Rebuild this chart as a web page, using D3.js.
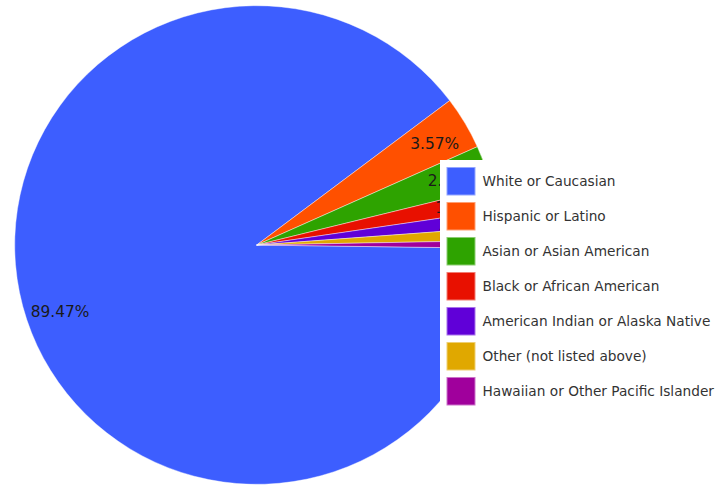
<!DOCTYPE html>
<html>
<head>
<meta charset="utf-8">
<script src="https://cdn.jsdelivr.net/npm/d3@7"></script>
<style>
  html, body { margin: 0; padding: 0; background: #ffffff; overflow: hidden; }
  svg { display: block; }
</style>
</head>
<body>
<svg id="chart" width="721" height="488"></svg>
<script>
// Respondent ethnicity shares (percent)
const categories = [
  "White or Caucasian",
  "Hispanic or Latino",
  "Asian or Asian American",
  "Black or African American",
  "American Indian or Alaska Native",
  "Other (not listed above)",
  "Hawaiian or Other Pacific Islander"
];
const values = [89.47, 3.57, 2.88, 1.52, 1.16, 0.88, 0.52];
const colors = ["#3d5eff", "#ff5000", "#2ea300", "#e81000", "#6000d8", "#e0a800", "#a0009c"];

const svg = d3.select("#chart");
const cx = 256.7, cy = 245, radius = 242, yScale = 0.989;

const data = categories.map((c, i) => ({ name: c, value: values[i], color: colors[i] }));

// Slices run clockwise, starting just below the 3 o'clock position
const start = Math.PI / 2 + 0.8 * Math.PI / 180;
const pie = d3.pie()
  .sort(null)
  .value(d => d.value)
  .startAngle(start)
  .endAngle(start + 2 * Math.PI);

const arc = d3.arc().innerRadius(0).outerRadius(radius);
const labelArc = d3.arc().innerRadius(radius * 0.855).outerRadius(radius * 0.855);

const arcs = pie(data);

svg.append("g")
  .attr("transform", `translate(${cx},${cy}) scale(1,${yScale})`)
  .selectAll("path.slice")
  .data(arcs)
  .join("path")
  .attr("class", "slice")
  .attr("d", arc)
  .attr("fill", d => d.data.color)
  .attr("stroke", "#ffffff")
  .attr("stroke-width", 0.6)
  .attr("stroke-opacity", 0.7);

svg.append("g")
  .attr("transform", `translate(${cx},${cy})`)
  .selectAll("text.pct")
  .data(arcs)
  .join("text")
  .attr("class", "pct")
  .attr("transform", d => {
    const [x, y] = labelArc.centroid(d);
    return `translate(${x},${y * yScale + 3})`;
  })
  .attr("text-anchor", "middle")
  .attr("dominant-baseline", "central")
  .attr("font-family", "DejaVu Sans, sans-serif")
  .attr("font-size", 15.4)
  .attr("fill", "#1a1a1a")
  .text(d => d.data.value.toFixed(2) + "%");

// Legend panel
const legend = svg.append("g").attr("transform", "translate(440,160)");
legend.append("rect")
  .attr("x", 0).attr("y", 0)
  .attr("width", 290).attr("height", 248)
  .attr("fill", "#ffffff");

const rowH = 35;
const items = legend.selectAll("g.item")
  .data(data)
  .join("g")
  .attr("class", "item")
  .attr("transform", (d, i) => `translate(7,${7.5 + i * rowH})`);

items.append("rect")
  .attr("width", 28).attr("height", 27.5)
  .attr("fill", d => d.color)
  .attr("stroke", d => d3.interpolateRgb(d.color, "#ffffff")(0.45))
  .attr("stroke-width", 1);

items.append("text")
  .attr("x", 35.5)
  .attr("y", 13.5)
  .attr("dominant-baseline", "central")
  .attr("font-family", "DejaVu Sans, sans-serif")
  .attr("font-size", 13.7)
  .attr("fill", "#333333")
  .text(d => d.name);
</script>
</body>
</html>
